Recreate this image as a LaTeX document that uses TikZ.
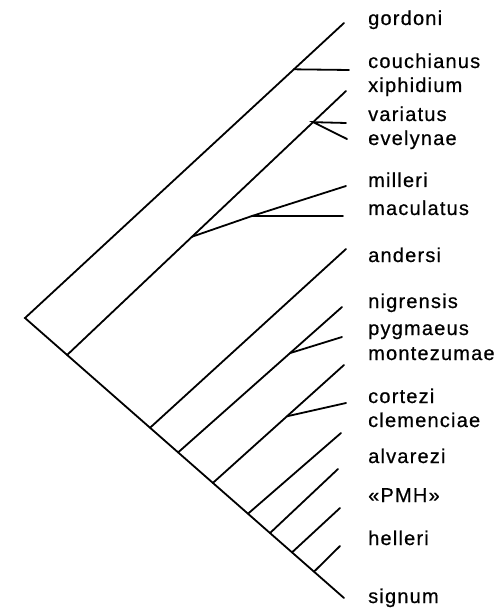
\documentclass[tikz,border=0pt]{standalone}
\usepackage{fontspec}
\usepackage{tikz}
\usetikzlibrary{calc}
\newfontfamily\taxonfont[LetterSpace=6,FakeBold=0.6]{Liberation Sans}

\begin{document}
\begin{tikzpicture}[x=1pt,y=-1pt,
  branch/.style={line width=1.8pt,line cap=round},
  taxon/.style={anchor=base west,inner sep=0pt,font=\taxonfont\fontsize{20}{24}\selectfont}]
  \useasboundingbox (0,0) rectangle (498,609);
  % ---------- root and outer lines ----------
  \coordinate (root) at (25,318);
  \coordinate (tgor) at (344,23);
  \coordinate (tsig) at (344,598);
  \draw[branch] (tgor) -- (root) -- (tsig);
  % ---------- gordoni / couchianus ----------
  \coordinate (ncou) at ($(root)!0.843!(tgor)$);
  \coordinate (tcou) at (349,70);
  \draw[branch] (ncou) -- (tcou);
  % ---------- xiphidium clade ----------
  \coordinate (bxip) at ($(root)!0.132!(tsig)$);
  \coordinate (txip) at (346,91);
  \draw[branch] (bxip) -- (txip);
  \coordinate (nvar) at ($(bxip)!0.882!(txip)$);
  \coordinate (tvar) at (346,123);
  \coordinate (teve) at (347,139);
  \draw[branch] (tvar) -- (nvar) -- (teve);
  \coordinate (nmac) at ($(bxip)!0.448!(txip)$);
  \coordinate (nmil) at (252,216);
  \coordinate (tmil) at (346,186);
  \coordinate (tmac) at (343,216);
  \draw[branch] (nmac) -- (nmil) -- (tmil);
  \draw[branch] (nmil) -- (tmac);
  % ---------- andersi ----------
  \coordinate (band) at ($(root)!0.392!(tsig)$);
  \coordinate (tand) at (346,249);
  \draw[branch] (band) -- (tand);
  % ---------- nigrensis / pygmaeus ----------
  \coordinate (bnig) at ($(root)!0.48!(tsig)$);
  \coordinate (tnig) at (342,307);
  \draw[branch] (bnig) -- (tnig);
  \coordinate (npyg) at ($(bnig)!0.683!(tnig)$);
  \coordinate (tpyg) at (342,337);
  \draw[branch] (npyg) -- (tpyg);
  % ---------- cortezi / clemenciae ----------
  \coordinate (bcle) at ($(root)!0.589!(tsig)$);
  \coordinate (tcle) at (344,365);
  \draw[branch] (bcle) -- (tcle);
  \coordinate (ncor) at ($(bcle)!0.565!(tcle)$);
  \coordinate (tcor) at (346,403);
  \draw[branch] (ncor) -- (tcor);
  % ---------- comb towards signum ----------
  \coordinate (balv) at ($(root)!0.699!(tsig)$);
  \coordinate (talv) at (341,433);
  \coordinate (bpmh) at ($(root)!0.768!(tsig)$);
  \coordinate (tpmh) at (338,469);
  \coordinate (bhel) at ($(root)!0.837!(tsig)$);
  \coordinate (thel) at (340,508);
  \coordinate (blst) at ($(root)!0.906!(tsig)$);
  \coordinate (tlst) at (340,546);
  \draw[branch] (balv) -- (talv);
  \draw[branch] (bpmh) -- (tpmh);
  \draw[branch] (bhel) -- (thel);
  \draw[branch] (blst) -- (tlst);
  % ---------- labels ----------
  \node[taxon] (lgor) at (368,25) {gordoni};
  \node[taxon] (lcou) at (368,68) {couchianus};
  \node[taxon] (lxip) at (368,92) {xiphidium};
  \node[taxon] (lvar) at (368,121) {variatus};
  \node[taxon] (leve) at (368,145) {evelynae};
  \node[taxon] (lmil) at (368,187) {milleri};
  \node[taxon] (lmac) at (368,215) {maculatus};
  \node[taxon] (land) at (368,262) {andersi};
  \node[taxon] (lnig) at (368,308) {nigrensis};
  \node[taxon] (lpyg) at (368,335) {pygmaeus};
  \node[taxon] (lmon) at (368,360) {montezumae};
  \node[taxon] (lcor) at (368,403) {cortezi};
  \node[taxon] (lcle) at (368,427) {clemenciae};
  \node[taxon] (lalv) at (368,463) {alvarezi};
  \node[taxon] (lpmh) at (368,502) {«PMH»};
  \node[taxon] (lhel) at (368,545) {helleri};
  \node[taxon] (lsig) at (368,603) {signum};
\end{tikzpicture}
\end{document}
